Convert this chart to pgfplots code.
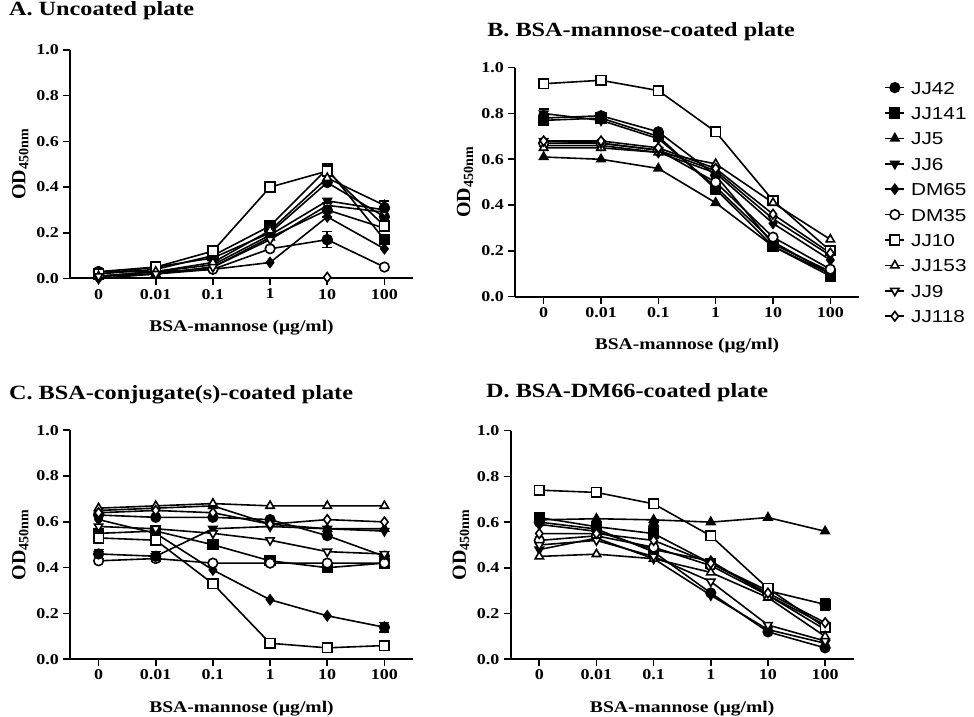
\documentclass[border=0pt]{standalone}
\usepackage{pgfplots}
\pgfplotsset{compat=1.18}
\usepackage{fontspec}
\setmainfont{Liberation Serif}
\newfontfamily\legfont{Liberation Sans}

% the reference figure is stretched 1.2 times sideways: text nodes get xscale=1.2
\pgfplotsset{
  panel/.style={
    scale only axis, width=343pt, height=229pt, anchor=south west,
    xmin=-0.5, xmax=5.5, ymin=0, ymax=1, clip=false,
    axis x line*=bottom, axis y line*=left,
    axis line style={line width=2pt, -},
    tick style={line width=1.6pt, black}, tick align=outside, major tick length=7pt,
    xtick={0,...,5}, xticklabels={0,0.01,0.1,1,10,100},
    ytick={0,0.2,0.4,0.6,0.8,1.0},
    yticklabel style={/pgf/number format/.cd, fixed, fixed zerofill, precision=1},
    /pgf/number format/assume math mode=true,
    ticklabel style={font=\fontsize{15}{17}\selectfont\bfseries, xscale=1.2},
    xlabel={BSA-mannose (μg/ml)}, ylabel={OD\textsubscript{450nm}},
    label style={font=\fontsize{16.3}{19}\selectfont\bfseries},
    xlabel style={at={(axis description cs:0.5,-0.232)}, anchor=base, xscale=1.2},
    ylabel style={at={(axis description cs:-0.145,0.5)}, anchor=center,
      font=\fontsize{20}{22}\selectfont\bfseries},
    title style={font=\fontsize{20.2}{24}\selectfont\bfseries, anchor=base west, xscale=1.2},
    every axis plot/.append style={black, line width=1.6pt, mark size=4.8pt},
    legend image code/.code={
      \draw[##1, mark=none] (0pt,0pt) -- (19pt,0pt);
      \draw[##1] plot coordinates {(9.5pt,0pt)};
    },
  },
  s1/.style={mark=*, mark options={solid}},
  s2/.style={mark=square*, mark options={solid}},
  s3/.style={mark=triangle*, mark options={solid}},
  s4/.style={mark=triangle*, mark options={solid, rotate=180}},
  s5/.style={mark=diamond*, mark options={solid}},
  s6/.style={mark=*, mark options={solid, fill=white}},
  s7/.style={mark=square*, mark options={solid, fill=white}},
  s8/.style={mark=triangle*, mark options={solid, fill=white}},
  s9/.style={mark=triangle*, mark options={solid, fill=white, rotate=180}},
  s10/.style={mark=diamond*, mark options={solid, fill=white}},
  eb/.style={forget plot, only marks, mark=none,
    error bars/.cd, y dir=both, y explicit,
    error bar style={draw=black, line width=1.6pt},
    error mark options={draw=black, rotate=90, mark size=5pt, line width=1.6pt}},
}

\begin{document}
\begin{tikzpicture}
\useasboundingbox (0,0) rectangle (974pt,717pt);

% A. uncoated
\begin{axis}[panel, at={(70pt,438.5pt)}, height=228.5pt,
  title={A. Uncoated plate}, title style={at={(axis description cs:-0.19,1.126)}}]
\addplot[s1] coordinates {(0,0.03) (1,0.05) (2,0.09) (3,0.20) (4,0.42) (5,0.27)};
\addplot[s2] coordinates {(0,0.02) (1,0.04) (2,0.10) (3,0.23) (4,0.48) (5,0.17)};
\addplot[s3] coordinates {(0,0.01) (1,0.02) (2,0.05) (3,0.18) (4,0.30) (5,0.22)};
\addplot[s4] coordinates {(0,0.01) (1,0.03) (2,0.06) (3,0.19) (4,0.34) (5,0.30)};
\addplot[s5] coordinates {(0,0.00) (1,0.02) (2,0.04) (3,0.07) (4,0.27) (5,0.13)};
\addplot[s6] coordinates {(0,0.03) (1,0.03) (2,0.04) (3,0.13) (4,0.17) (5,0.05)};
\addplot[s7] coordinates {(0,0.02) (1,0.05) (2,0.12) (3,0.40) (4,0.47) (5,0.23)};
\addplot[s8] coordinates {(0,0.01) (1,0.03) (2,0.07) (3,0.21) (4,0.44) (5,0.32)};
\addplot[s9] coordinates {(0,0.01) (1,0.02) (2,0.05) (3,0.17) (4,0.32) (5,0.29)};
\addplot[s10] coordinates {(4,0.005)};
\addplot[eb] coordinates {(4,0.17) +- (0,0.035) (4,0.30) +- (0,0.03) (5,0.31) +- (0,0.03)};
\end{axis}

% B. BSA-mannose-coated
\begin{axis}[panel, at={(515pt,420.3pt)}, width=344pt,
  title={B. BSA-mannose-coated plate}, title style={at={(axis description cs:-0.093,1.108)}},
  legend style={at={(axis description cs:1.065,0.951)}, anchor=north west, draw=none, fill=none,
    font=\legfont\fontsize{17.3}{20}\selectfont, row sep=12.4pt,
    nodes={inner sep=0pt, text height=13pt, text depth=0pt, xscale=1.2},
    /tikz/every odd column/.append style={column sep=6pt}},
  legend cell align=left]
\addplot[s1] coordinates {(0,0.78) (1,0.79) (2,0.72) (3,0.53) (4,0.23) (5,0.11)};
\addplot[s2] coordinates {(0,0.77) (1,0.78) (2,0.70) (3,0.47) (4,0.22) (5,0.09)};
\addplot[s3] coordinates {(0,0.61) (1,0.60) (2,0.56) (3,0.41) (4,0.22) (5,0.10)};
\addplot[s4] coordinates {(0,0.80) (1,0.77) (2,0.69) (3,0.48) (4,0.24) (5,0.10)};
\addplot[s5] coordinates {(0,0.66) (1,0.66) (2,0.63) (3,0.54) (4,0.32) (5,0.16)};
\addplot[s6] coordinates {(0,0.67) (1,0.67) (2,0.64) (3,0.50) (4,0.26) (5,0.12)};
\addplot[s7] coordinates {(0,0.93) (1,0.945) (2,0.90) (3,0.72) (4,0.42) (5,0.20)};
\addplot[s8] coordinates {(0,0.65) (1,0.65) (2,0.63) (3,0.58) (4,0.41) (5,0.25)};
\addplot[s9] coordinates {(0,0.68) (1,0.67) (2,0.64) (3,0.55) (4,0.34) (5,0.18)};
\addplot[s10] coordinates {(0,0.68) (1,0.68) (2,0.65) (3,0.56) (4,0.36) (5,0.19)};
\addplot[eb] coordinates {(0,0.79) +- (0,0.03)};
\legend{JJ42, JJ141, JJ5, JJ6, DM65, DM35, JJ10, JJ153, JJ9, JJ118}
\end{axis}

% C. BSA-conjugate(s)-coated
\begin{axis}[panel, at={(70pt,57.7pt)},
  title={C. BSA-conjugate(s)-coated plate}, title style={at={(axis description cs:-0.19,1.109)}}]
\addplot[s1] coordinates {(0,0.63) (1,0.62) (2,0.62) (3,0.61) (4,0.54) (5,0.45)};
\addplot[s2] coordinates {(0,0.55) (1,0.56) (2,0.50) (3,0.43) (4,0.40) (5,0.42)};
\addplot[s3] coordinates {(0,0.65) (1,0.66) (2,0.67) (3,0.59) (4,0.57) (5,0.57)};
\addplot[s4] coordinates {(0,0.46) (1,0.45) (2,0.57) (3,0.58) (4,0.57) (5,0.56)};
\addplot[s5] coordinates {(0,0.61) (1,0.55) (2,0.39) (3,0.26) (4,0.19) (5,0.14)};
\addplot[s6] coordinates {(0,0.43) (1,0.44) (2,0.42) (3,0.42) (4,0.42) (5,0.42)};
\addplot[s7] coordinates {(0,0.53) (1,0.52) (2,0.33) (3,0.07) (4,0.05) (5,0.06)};
\addplot[s8] coordinates {(0,0.66) (1,0.67) (2,0.68) (3,0.67) (4,0.67) (5,0.67)};
\addplot[s9] coordinates {(0,0.58) (1,0.57) (2,0.55) (3,0.52) (4,0.47) (5,0.46)};
\addplot[s10] coordinates {(0,0.64) (1,0.65) (2,0.64) (3,0.59) (4,0.61) (5,0.60)};
\addplot[eb] coordinates {(0,0.46) +- (0,0.02) (1,0.45) +- (0,0.02) (5,0.14) +- (0,0.02)};
\end{axis}

% D. BSA-DM66-coated
\begin{axis}[panel, at={(510.7pt,57.7pt)}, height=228.6pt,
  title={D. BSA-DM66-coated plate}, title style={at={(axis description cs:-0.084,1.117)}}]
\addplot[s1] coordinates {(0,0.60) (1,0.57) (2,0.47) (3,0.29) (4,0.12) (5,0.05)};
\addplot[s2] coordinates {(0,0.62) (1,0.58) (2,0.55) (3,0.42) (4,0.30) (5,0.24)};
\addplot[s3] coordinates {(0,0.61) (1,0.615) (2,0.61) (3,0.60) (4,0.62) (5,0.56)};
\addplot[s4] coordinates {(0,0.48) (1,0.53) (2,0.44) (3,0.28) (4,0.13) (5,0.07)};
\addplot[s5] coordinates {(0,0.59) (1,0.56) (2,0.48) (3,0.43) (4,0.28) (5,0.13)};
\addplot[s6] coordinates {(0,0.52) (1,0.54) (2,0.49) (3,0.41) (4,0.28) (5,0.15)};
\addplot[s7] coordinates {(0,0.74) (1,0.73) (2,0.68) (3,0.54) (4,0.31) (5,0.14)};
\addplot[s8] coordinates {(0,0.45) (1,0.46) (2,0.44) (3,0.38) (4,0.27) (5,0.10)};
\addplot[s9] coordinates {(0,0.50) (1,0.52) (2,0.45) (3,0.34) (4,0.15) (5,0.08)};
\addplot[s10] coordinates {(0,0.55) (1,0.55) (2,0.52) (3,0.42) (4,0.29) (5,0.16)};
\addplot[eb] coordinates {(2,0.58) +- (0,0.02) (5,0.24) +- (0,0.025)};
\end{axis}
\end{tikzpicture}
\end{document}
